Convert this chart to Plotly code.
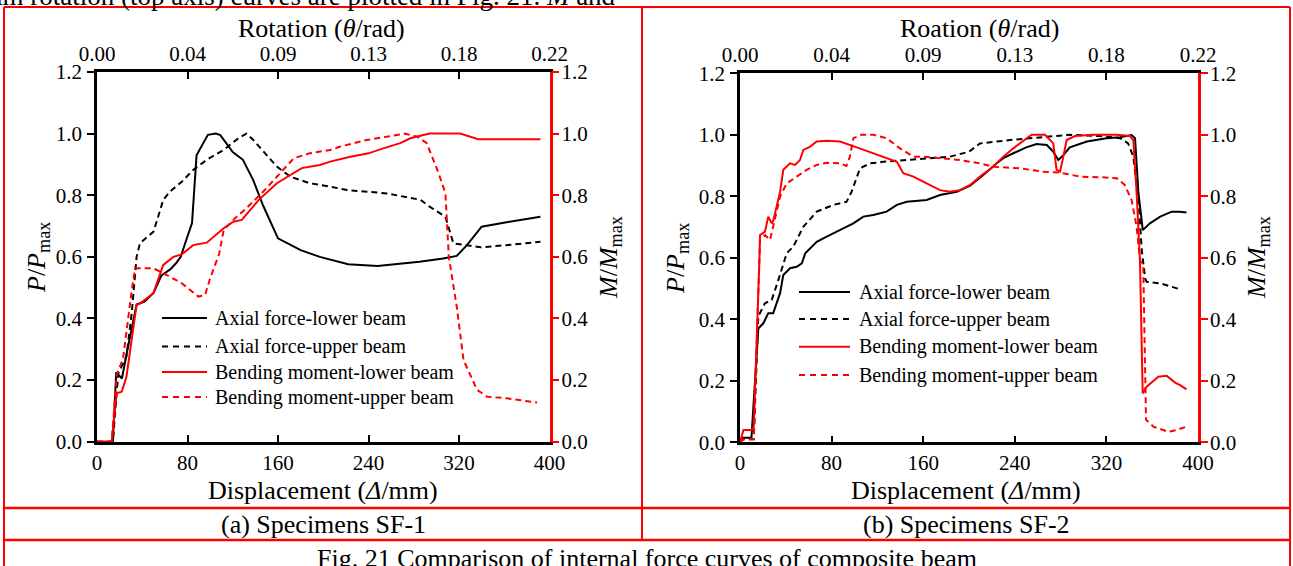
import plotly.graph_objects as go

W, H = 1293, 566
FONT = "Liberation Serif"
RED = "#FF0000"
BLACK = "#000000"

# ---------------- data: (a) Specimens SF-1 ----------------
a_al_x = [0, 14, 17, 22, 27, 35, 42, 50, 57, 65, 70, 74, 78, 84, 88, 92, 98, 105, 109, 120, 129, 138, 147, 160, 180, 197, 222, 248, 285, 306, 318, 327, 340, 362, 392]
a_al_y = [0, 0, 0.225, 0.205, 0.30, 0.445, 0.455, 0.483, 0.54, 0.56, 0.58, 0.60, 0.645, 0.71, 0.93, 0.955, 0.996, 1.0, 0.995, 0.94, 0.915, 0.85, 0.765, 0.66, 0.622, 0.60, 0.576, 0.57, 0.584, 0.595, 0.603, 0.638, 0.698, 0.712, 0.73]

a_au_x = [0, 14, 18.8, 26, 30.7, 33.6, 35, 38, 50, 58.6, 64.5, 75, 85, 97, 112, 125, 132, 138, 159, 171, 188, 206, 221, 256, 286, 294, 308, 315, 339, 362, 392]
a_au_y = [0, 0, 0.222, 0.276, 0.417, 0.547, 0.60, 0.644, 0.682, 0.785, 0.812, 0.844, 0.882, 0.915, 0.947, 0.985, 1.0, 0.98, 0.893, 0.86, 0.839, 0.828, 0.817, 0.806, 0.785, 0.763, 0.73, 0.644, 0.631, 0.638, 0.649]

a_ml_x = [0, 13, 17.4, 21.8, 26, 35, 38.6, 49.8, 58.6, 67.5, 75, 85, 97, 103, 112, 120.5, 128, 138, 143, 159, 171, 181, 197, 206, 224, 240, 253, 268, 277, 294, 321, 337, 362, 392]
a_ml_y = [0, 0, 0.157, 0.162, 0.21, 0.444, 0.45, 0.482, 0.574, 0.60, 0.608, 0.638, 0.646, 0.666, 0.693, 0.714, 0.72, 0.763, 0.785, 0.839, 0.866, 0.888, 0.898, 0.909, 0.925, 0.936, 0.952, 0.969, 0.985, 1.0, 1.0, 0.982, 0.982, 0.982]

a_mu_x = [0, 13, 17.4, 23, 30.7, 33.6, 49.8, 58.6, 75, 89.6, 95.5, 100, 108, 112, 120.5, 132, 147, 162, 174, 188, 206, 215, 238, 256, 272, 283, 291.5, 302, 308, 311, 318, 324, 336, 345, 362, 389]
a_mu_y = [0, 0, 0.217, 0.27, 0.49, 0.563, 0.563, 0.547, 0.514, 0.471, 0.476, 0.53, 0.61, 0.687, 0.72, 0.758, 0.812, 0.871, 0.92, 0.936, 0.947, 0.958, 0.979, 0.99, 1.0, 0.99, 0.969, 0.871, 0.806, 0.60, 0.438, 0.265, 0.168, 0.146, 0.141, 0.127]

# ---------------- data: (b) Specimens SF-2 ----------------
b_al_x = [0, 2, 10, 16, 20.4, 24.7, 29, 35, 37.8, 43.7, 49.5, 54, 57, 67, 75.7, 87.3, 99, 107.7, 116.4, 128, 137, 145.6, 163, 174.7, 189.3, 201, 212.5, 224, 230, 238.7, 250, 259, 268, 273.6, 278, 282.4, 288, 303, 320, 332, 338, 342, 345, 348, 351.8, 358, 367, 377, 384, 390]
b_al_y = [0, 0.015, 0.015, 0.37, 0.387, 0.42, 0.42, 0.485, 0.544, 0.566, 0.571, 0.582, 0.615, 0.652, 0.669, 0.69, 0.712, 0.734, 0.739, 0.75, 0.772, 0.782, 0.788, 0.804, 0.815, 0.835, 0.869, 0.907, 0.924, 0.94, 0.959, 0.97, 0.967, 0.945, 0.918, 0.934, 0.959, 0.978, 0.989, 0.992, 0.996, 0.999, 0.989, 0.81, 0.69, 0.712, 0.734, 0.75, 0.75, 0.747]

b_au_x = [0, 3, 12, 16, 21.8, 27.7, 33.5, 37.8, 40.8, 46.5, 55.3, 67, 81.5, 93, 97.5, 104.8, 113.5, 125, 145.6, 163, 183.4, 200, 209.6, 236, 262, 288, 314, 332, 339, 343.5, 348, 351, 354, 355.2, 367, 384]
b_au_y = [0, 0.01, 0.01, 0.41, 0.452, 0.463, 0.528, 0.582, 0.615, 0.636, 0.701, 0.75, 0.772, 0.782, 0.815, 0.891, 0.907, 0.912, 0.918, 0.924, 0.929, 0.945, 0.972, 0.983, 0.992, 1.0, 0.996, 0.989, 0.972, 0.929, 0.788, 0.62, 0.53, 0.522, 0.517, 0.498]

b_ml_x = [0, 3, 10, 12, 17, 17.5, 21.8, 24.7, 27.7, 29, 35, 37.8, 43.7, 48, 52.4, 55.3, 61, 67, 75.7, 87.3, 102, 116.4, 125, 137, 142.6, 151.4, 163, 174.7, 183.4, 192, 201, 209.6, 221, 230, 238.7, 250.4, 254.7, 266.4, 273.6, 276.5, 279.5, 282.4, 285.3, 292.6, 308.6, 329, 340.6, 343.5, 346.4, 349.3, 351.7, 355.2, 365.3, 372.7, 380, 384.3, 390]
b_ml_y = [0, 0.04, 0.04, 0.05, 0.60, 0.674, 0.685, 0.734, 0.712, 0.72, 0.815, 0.886, 0.907, 0.902, 0.918, 0.951, 0.961, 0.978, 0.981, 0.978, 0.959, 0.94, 0.929, 0.912, 0.875, 0.864, 0.842, 0.82, 0.815, 0.82, 0.837, 0.864, 0.896, 0.929, 0.956, 0.989, 1.0, 1.0, 0.972, 0.886, 0.88, 0.929, 0.983, 0.996, 1.0, 1.0, 0.996, 0.983, 0.81, 0.593, 0.159, 0.181, 0.213, 0.216, 0.194, 0.186, 0.172]

b_mu_x = [0, 3, 12, 17.5, 21.8, 26.2, 35, 40.8, 49.5, 58.2, 67, 75.7, 87.3, 93, 96, 99, 106, 116.4, 128, 139.7, 151.4, 160, 174.7, 192, 209.6, 221, 244.5, 265, 279.5, 297, 314.4, 329, 336, 342, 346.4, 349.3, 352.2, 353.7, 354.6, 361, 374, 381.4, 390]
b_mu_y = [0, 0.01, 0.01, 0.663, 0.674, 0.658, 0.799, 0.842, 0.864, 0.886, 0.902, 0.909, 0.907, 0.899, 0.929, 0.989, 1.0, 1.0, 0.989, 0.956, 0.929, 0.929, 0.924, 0.918, 0.907, 0.896, 0.891, 0.88, 0.877, 0.864, 0.862, 0.859, 0.837, 0.788, 0.701, 0.593, 0.571, 0.30, 0.073, 0.051, 0.034, 0.04, 0.051]

# ---------------- axis labels ----------------
disp_ticks = [0, 80, 160, 240, 320, 400]
rot_labels = ["0.00", "0.04", "0.09", "0.13", "0.18", "0.22"]
ratio_ticks = [0.0, 0.2, 0.4, 0.6, 0.8, 1.0, 1.2]
legend_names = ["Axial force-lower beam", "Axial force-upper beam",
                "Bending moment-lower beam", "Bending moment-upper beam"]
series_styles = [(BLACK, "solid"), (BLACK, "6px,4px"), (RED, "solid"), (RED, "6px,4px")]


def fx(px):
    return px / W


def fy(py):
    return 1 - py / H


fig = go.Figure()

panels = [
    dict(xs=[a_al_x, a_au_x, a_ml_x, a_mu_x], ys=[a_al_y, a_au_y, a_ml_y, a_mu_y],
         xb="x", xt="x2", yl="y", yr="y2", box=(97, 549.5, 72, 441.7)),
    dict(xs=[b_al_x, b_au_x, b_ml_x, b_mu_x], ys=[b_al_y, b_au_y, b_ml_y, b_mu_y],
         xb="x3", xt="x4", yl="y3", yr="y4", box=(740, 1198, 73.3, 442.3)),
]

for p in panels:
    for i in range(4):
        col, dash = series_styles[i]
        if i < 2:
            xa, ya = p["xb"], p["yl"]
        else:
            xa, ya = p["xt"], p["yr"]
        fig.add_trace(go.Scatter(x=p["xs"][i], y=p["ys"][i], mode="lines",
                                 line=dict(color=col, width=2, dash=dash),
                                 xaxis=xa, yaxis=ya, showlegend=False,
                                 name=legend_names[i]))

tickfont = dict(family=FONT, size=21, color=BLACK)
common_x = dict(range=[0, 400], tickvals=disp_ticks, ticks="inside", ticklen=7, tickwidth=2,
                showline=True, linewidth=2.5, linecolor=BLACK, tickcolor=BLACK,
                showgrid=False, zeroline=False, tickfont=tickfont, automargin=False)
common_y = dict(range=[0, 1.2], tickvals=ratio_ticks, tickformat=".1f", ticks="outside",
                ticklen=7, tickwidth=2, showline=True, linewidth=2.5,
                showgrid=False, zeroline=False, tickfont=tickfont, automargin=False)

layout_axes = {}
for k, p in enumerate(panels):
    x0, x1, yt, yb = p["box"]
    xd = [fx(x0), fx(x1)]
    yd = [fy(yb), fy(yt)]
    nb = "" if k == 0 else "3"
    nt = "2" if k == 0 else "4"
    ylid = "y" if k == 0 else "y3"
    xlid = "x" if k == 0 else "x3"
    layout_axes["xaxis" + nb] = dict(common_x, domain=xd, anchor=ylid, ticklabelstandoff=0)
    layout_axes["xaxis" + nt] = dict(common_x, domain=xd, anchor=ylid, overlaying=xlid,
                                     side="top", ticktext=rot_labels, ticklabelstandoff=0)
    layout_axes["yaxis" + nb] = dict(common_y, domain=yd, anchor=xlid, linecolor=BLACK,
                                     tickcolor=BLACK, ticklabelstandoff=1)
    layout_axes["yaxis" + nt] = dict(common_y, domain=yd, anchor=xlid, overlaying=ylid,
                                     side="right", linecolor=RED, tickcolor=RED,
                                     ticklabelstandoff=-2)

annotations = []
shapes = []


def text(x, y, s, size=26, angle=0, xanchor="center"):
    annotations.append(dict(x=fx(x), y=fy(y), xref="paper", yref="paper", text=s,
                            showarrow=False, textangle=angle, xanchor=xanchor,
                            yanchor="middle", font=dict(family=FONT, size=size, color=BLACK)))


# truncated text from the page above the figure
text(618, -4, "um rotation (top axis) curves are plotted in Fig. 21. <i>M</i> and",
     size=27, xanchor="right")

# axis titles
text(321, 28, "Rotation (<i>θ</i>/rad)")
text(980, 28, "Roation (<i>θ</i>/rad)")
text(322.5, 491, "Displacement (<i>Δ</i>/mm)")
text(966, 491, "Displacement (<i>Δ</i>/mm)")
text(38, 258, "<i>P</i>/<i>P</i><sub>max</sub>", angle=-90)
text(610, 258, "<i>M</i>/<i>M</i><sub>max</sub>", angle=-90)
text(677, 258, "<i>P</i>/<i>P</i><sub>max</sub>", angle=-90)
text(1258, 258, "<i>M</i>/<i>M</i><sub>max</sub>", angle=-90)

# captions
text(323, 524, "(a) Specimens SF-1")
text(966, 524, "(b) Specimens SF-2")
text(647, 558, "Fig. 21 Comparison of internal force curves of composite beam")

# legends (manual)
legend_pos = [(162, 207, 213, [318, 346.5, 372, 397]),
              (799, 850, 857, [292, 319, 346.7, 375])]
for lx0, lx1, tx, rows in legend_pos:
    for i, ry in enumerate(rows):
        col, dash = series_styles[i]
        shapes.append(dict(type="line", xref="paper", yref="paper",
                           x0=fx(lx0), x1=fx(lx1), y0=fy(ry), y1=fy(ry),
                           line=dict(color=col, width=2, dash="6px,5px" if dash != "solid" else "solid")))
        text(tx, ry, legend_names[i], size=20, xanchor="left")


# table borders
def hline(y, x0=4, x1=1290, w=2):
    shapes.append(dict(type="line", xref="paper", yref="paper", x0=fx(x0), x1=fx(x1),
                       y0=fy(y), y1=fy(y), line=dict(color=RED, width=w)))


def vline(x, y0=7, y1=566, w=2):
    shapes.append(dict(type="line", xref="paper", yref="paper", x0=fx(x), x1=fx(x),
                       y0=fy(y0), y1=fy(y1), line=dict(color=RED, width=w)))


hline(7)
hline(508, w=2.5)
hline(540, w=2.5)
vline(4)
vline(1290)
vline(642, 7, 540)

fig.update_layout(width=W, height=H, margin=dict(l=0, r=0, t=0, b=0),
                  paper_bgcolor="white", plot_bgcolor="white",
                  showlegend=False, annotations=annotations, shapes=shapes,
                  font=dict(family=FONT, color=BLACK), **layout_axes)

fig.write_html("out.html")
